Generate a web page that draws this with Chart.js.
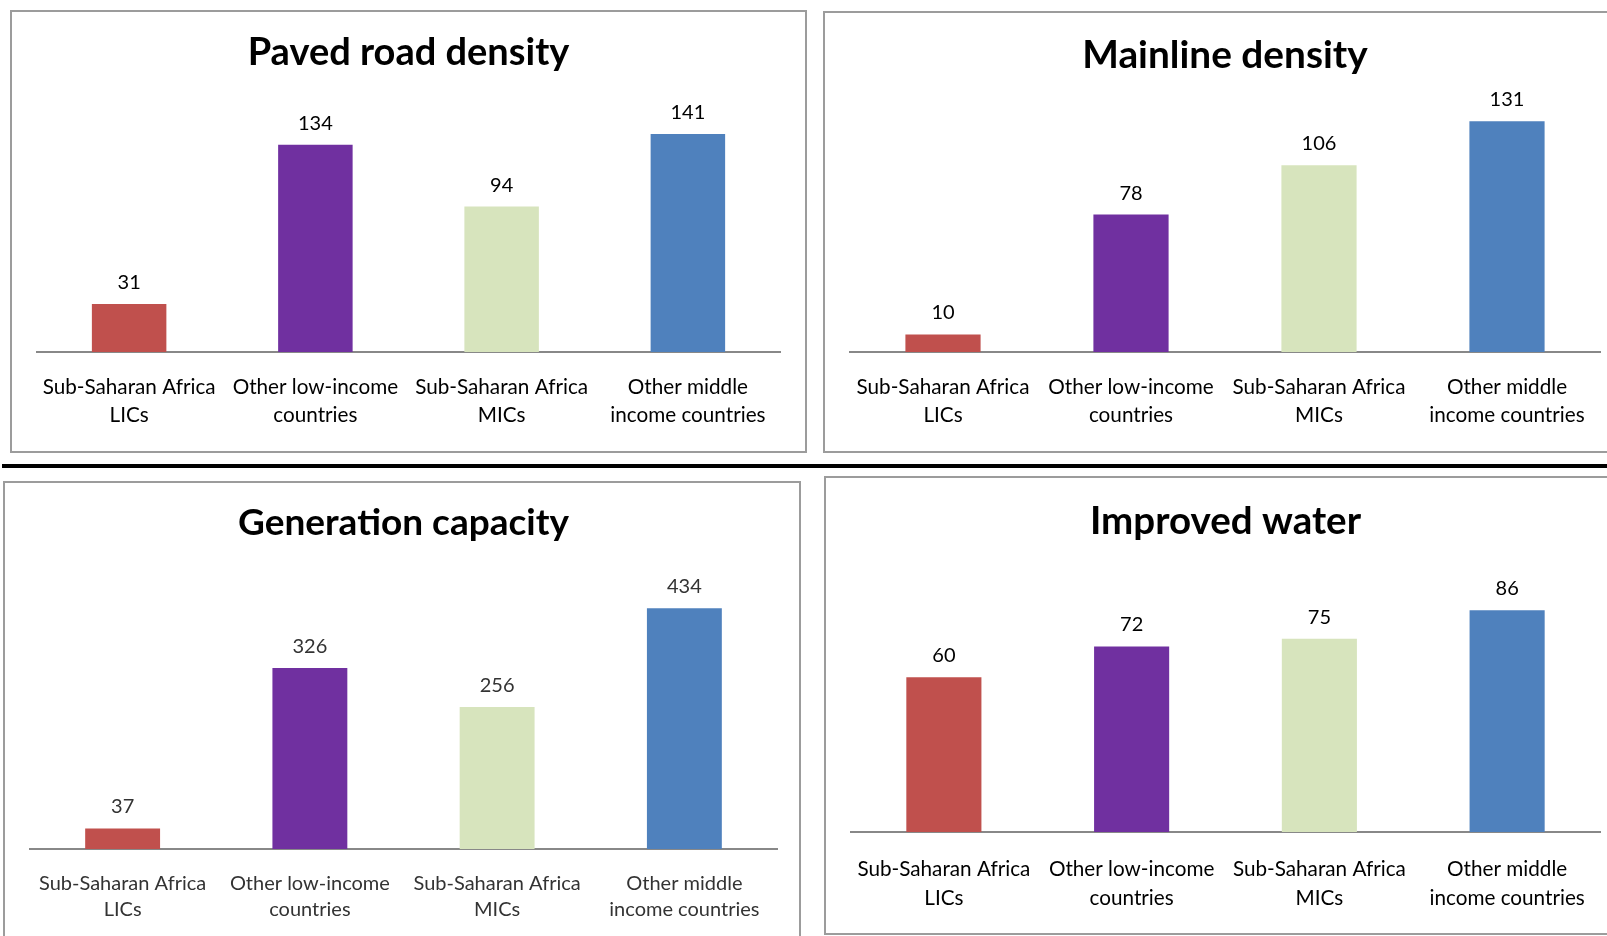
<!DOCTYPE html>
<html>
<head>
<meta charset="utf-8">
<title>Infrastructure indicators</title>
<script src="https://cdn.jsdelivr.net/npm/chart.js@4"></script>
<style>
  html, body { margin: 0; padding: 0; background: #fff; width: 1607px; height: 936px; overflow: hidden; }
  .frame { position: absolute; box-sizing: border-box; border: 2px solid #9c9c9c; background: #fff; }
  .divider { position: absolute; left: 2px; top: 464px; width: 1605px; height: 4px; background: #000; }
  canvas { position: absolute; }
</style>
</head>
<body>
<div class="frame" style="left:10px;top:10px;width:797px;height:443px;"></div>
<div class="frame" style="left:823px;top:11px;width:820px;height:442px;"></div>
<div class="divider"></div>
<div class="frame" style="left:3px;top:481px;width:798px;height:470px;"></div>
<div class="frame" style="left:824px;top:476px;width:820px;height:459px;"></div>

<canvas id="paved"></canvas>
<canvas id="mainline"></canvas>
<canvas id="generation"></canvas>
<canvas id="water"></canvas>

<script>
// Country groups shown on every panel
const categories = [
  ['Sub-Saharan Africa', 'LICs'],
  ['Other low-income', 'countries'],
  ['Sub-Saharan Africa', 'MICs'],
  ['Other middle', 'income countries']
];

// Indicator values per country group
const pavedRoadDensity = [31, 134, 94, 141];
const mainlineDensity = [10, 78, 106, 131];
const generationCapacity = [37, 326, 256, 434];
const improvedWater = [60, 72, 75, 86];

// Upper bound of each (hidden) value axis
const axisMax = [160, 150, 500, 100];

const barColors = ['#C0504D', '#7030A0', '#D7E4BD', '#4F81BD'];
const FONT = 'Lato, "Open Sans", sans-serif';

// Writes each bar's value a fixed distance above it
const valueLabels = {
  id: 'valueLabels',
  afterDatasetsDraw(chart, args, opts) {
    const ctx = chart.ctx;
    const meta = chart.getDatasetMeta(0);
    const values = chart.data.datasets[0].data;
    ctx.save();
    ctx.font = opts.size + 'px ' + FONT;
    ctx.fillStyle = opts.color;
    ctx.textAlign = 'center';
    ctx.textBaseline = 'alphabetic';
    meta.data.forEach((bar, i) => {
      ctx.fillText(String(values[i]), bar.x, bar.y - opts.gap);
    });
    ctx.restore();
  }
};

const AXIS_BAND = 85;

function drawPanel(id, title, values, max, p) {
  const canvas = document.getElementById(id);
  canvas.width = p.width;
  canvas.height = (p.axisY - p.top) + AXIS_BAND;
  canvas.style.left = p.left + 'px';
  canvas.style.top = p.top + 'px';

  new Chart(canvas, {
    type: 'bar',
    data: {
      labels: categories,
      datasets: [{
        data: values,
        backgroundColor: barColors,
        borderWidth: 0,
        categoryPercentage: 1,
        barPercentage: 0.4
      }]
    },
    options: {
      responsive: false,
      animation: false,
      layout: { padding: 0 },
      plugins: {
        legend: { display: false },
        tooltip: { enabled: false },
        title: {
          display: true,
          text: title,
          color: '#000',
          font: { family: FONT, size: p.titleSize, weight: 'bold', lineHeight: '44px' },
          padding: { top: p.titleTop, bottom: p.titleBottom }
        },
        valueLabels: { size: 20, color: p.textColor, gap: 15 }
      },
      scales: {
        x: {
          // the label gap comes from an undrawn tick mark so the end labels add no side padding
          grid: { display: false, drawTicks: true, tickLength: p.tickPad },
          border: { display: true, color: '#888888', width: 2 },
          ticks: {
            color: p.textColor,
            padding: 0,
            maxRotation: 0,
            autoSkip: false,
            font: { family: FONT, size: p.labelSize, lineHeight: p.lineHeight + 'px' }
          },
          afterFit(scale) { scale.height = AXIS_BAND; }
        },
        y: { display: false, min: 0, max: max }
      }
    },
    plugins: [valueLabels]
  });
}

drawPanel('paved', 'Paved road density', pavedRoadDensity, axisMax[0],
  { left: 36, width: 745, top: 12, axisY: 352, titleSize: 38, titleTop: 19, titleBottom: 29.5,
    tickPad: 21, lineHeight: 28, labelSize: 20.7, textColor: '#000' });

drawPanel('mainline', 'Mainline density', mainlineDensity, axisMax[1],
  { left: 849, width: 752, top: 13, axisY: 352, titleSize: 38.8, titleTop: 20, titleBottom: 10.7,
    tickPad: 21, lineHeight: 28, labelSize: 20.7, textColor: '#000' });

drawPanel('generation', 'Generation capacity', generationCapacity, axisMax[2],
  { left: 29, width: 749, top: 483, axisY: 849, titleSize: 37, titleTop: 18, titleBottom: 26.5,
    tickPad: 22, lineHeight: 26, labelSize: 20, textColor: '#333' });

drawPanel('water', 'Improved water', improvedWater, axisMax[3],
  { left: 850, width: 751, top: 478, axisY: 832, titleSize: 38.5, titleTop: 21.5, titleBottom: 30.7,
    tickPad: 22.5, lineHeight: 29, labelSize: 20.7, textColor: '#000' });
</script>
</body>
</html>
